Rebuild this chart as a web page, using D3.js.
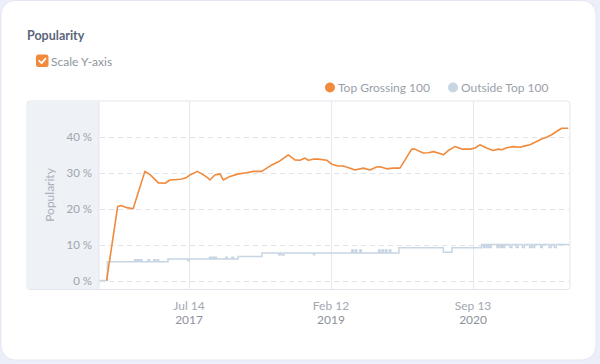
<!DOCTYPE html>
<html><head><meta charset="utf-8">
<script src="https://cdn.jsdelivr.net/npm/d3@7"></script>
<style>
html,body{margin:0;padding:0;background:#eceef9;}
svg{display:block;font-family:Lato,"Open Sans",sans-serif;}
</style></head>
<body><svg id="c" width="600" height="364"></svg>
<script>
const seriesNames = ["Top Grossing 100", "Outside Top 100"];
const seriesColors = ["#f08a3c", "#c8d5e2"];
const yTicks = [0, 10, 20, 30, 40];
const xTickDates = ["2017-07-14", "2019-02-12", "2020-09-13"];
const xTickLine1 = ["Jul 14", "Feb 12", "Sep 13"];
const xTickLine2 = ["2017", "2019", "2020"];

const topDates = ["2016-08-12","2016-09-26","2016-10-10","2016-11-03","2016-11-28","2017-01-15","2017-02-05","2017-03-11","2017-04-07","2017-04-27","2017-06-11","2017-07-01","2017-07-18","2017-08-17","2017-09-09","2017-09-30","2017-10-07","2017-10-27","2017-11-17","2017-11-30","2017-12-28","2018-01-31","2018-03-06","2018-04-02","2018-05-06","2018-06-16","2018-07-19","2018-08-22","2018-09-18","2018-10-09","2018-10-29","2018-11-12","2018-12-02","2018-12-22","2019-01-26","2019-02-15","2019-03-14","2019-04-03","2019-05-01","2019-05-21","2019-06-24","2019-07-21","2019-08-17","2019-08-31","2019-09-27","2019-10-24","2019-11-20","2019-12-11","2020-01-07","2020-01-20","2020-02-23","2020-03-15","2020-04-04","2020-04-24","2020-05-15","2020-06-04","2020-07-01","2020-07-29","2020-09-01","2020-09-21","2020-10-11","2020-11-07","2020-12-04","2020-12-25","2021-01-08","2021-01-28","2021-02-24","2021-03-23","2021-04-13","2021-05-03","2021-05-30","2021-06-19","2021-07-10","2021-07-30","2021-08-19","2021-09-09","2021-10-06"];
const topValues = [0,20.6,20.9,20.3,20.0,30.4,29.5,27.2,27.1,28,28.2,28.6,29.4,30.4,29.5,28.5,28,29.4,29.7,28,29,29.7,30,30.4,30.4,32.2,33.3,35,33.6,33.5,34.1,33.5,33.8,33.8,33.5,32.4,31.9,31.9,31.3,30.8,31.3,30.8,31.6,31.7,31.1,31.3,31.3,33.6,36.6,36.6,35.5,35.6,35.9,35.5,35,36.2,37.3,36.6,36.6,36.9,37.8,36.9,36.2,36.6,36.4,37,37.3,37.1,37.5,37.8,38.7,39.4,39.9,40.6,41.5,42.4,42.4];

const outDates = ["2016-07-14","2016-08-15","2016-12-04","2016-12-10","2016-12-16","2016-12-22","2016-12-28","2017-01-03","2017-01-28","2017-02-03","2017-02-20","2017-02-26","2017-03-06","2017-03-12","2017-04-19","2017-07-10","2017-07-14","2017-10-05","2017-10-10","2017-10-16","2017-10-22","2017-10-28","2017-11-03","2017-12-10","2017-12-16","2018-01-05","2018-01-11","2018-01-30","2018-05-07","2018-07-15","2018-07-20","2018-07-28","2018-08-05","2018-12-03","2018-12-07","2019-05-08","2019-05-14","2019-05-22","2019-05-28","2019-06-10","2019-06-16","2019-08-25","2019-08-31","2019-09-08","2019-09-14","2019-09-22","2019-09-28","2019-10-08","2019-10-14","2019-11-16","2020-05-15","2020-06-19","2020-10-18","2020-10-26","2020-11-01","2020-11-08","2020-11-14","2020-11-20","2020-11-26","2020-12-20","2020-12-26","2021-01-02","2021-01-08","2021-01-14","2021-01-20","2021-02-10","2021-02-18","2021-03-08","2021-03-16","2021-04-02","2021-04-10","2021-05-01","2021-05-08","2021-05-15","2021-05-22","2021-06-15","2021-06-22","2021-07-20","2021-07-28","2021-08-10","2021-08-18","2021-10-10"];
const outValues = [0,5.2,5.8,5.2,5.8,5.2,5.8,5.2,5.8,5.2,5.8,5.2,5.8,5.2,6.0,5.5,6.0,6.5,6.0,6.5,6.0,6.5,6.0,6.5,6.0,6.5,6.0,6.7,7.7,7.1,7.7,7.1,7.7,7.2,7.7,8.5,7.7,8.5,7.7,8.5,7.7,8.5,7.7,8.5,7.7,8.5,7.7,8.5,7.7,9.1,7.9,9.1,10,9.2,10,9.2,10,9.2,10,9.2,10,9.2,10,9.2,10,9.2,10,9.2,10,9.2,10,9.2,10,9.2,10,9.2,10,9.2,10,9.2,10,10];

const parse = d3.timeParse("%Y-%m-%d");
const topData = topDates.map((d,i)=>({date:parse(d), v:topValues[i]}));
const outData = outDates.map((d,i)=>({date:parse(d), v:outValues[i]}));

const svg = d3.select("#c");
// card
svg.append("rect").attr("x",1).attr("y",0.5).attr("width",595).attr("height",359.5).attr("rx",14)
  .attr("fill","#ffffff").attr("stroke","#e4e7f2").attr("stroke-width",1);

// title
svg.append("text").attr("x",27).attr("y",40).text("Popularity")
  .attr("font-size",12.5).attr("font-weight",700).attr("fill","#5c667a");
// checkbox
svg.append("rect").attr("x",36).attr("y",54.5).attr("width",12.5).attr("height",12.5).attr("rx",2.5).attr("fill","#f08a3c");
svg.append("path").attr("d","M39.2 60.8 L41.6 63.1 L45.5 58.6").attr("fill","none").attr("stroke","#fff").attr("stroke-width",1.7).attr("stroke-linecap","round").attr("stroke-linejoin","round");
svg.append("text").attr("x",51).attr("y",65.5).text("Scale Y-axis").attr("font-size",12).attr("fill","#8e939d");

// legend
const legX = [330, 453];
seriesNames.forEach((n,i)=>{
  svg.append("circle").attr("cx",legX[i]).attr("cy",87.5).attr("r",5).attr("fill",seriesColors[i]);
  svg.append("text").attr("x",legX[i]+8).attr("y",91.5).text(n).attr("font-size",12).attr("fill","#9a9fa9");
});

// frame
const L=27, T=101, R=570, B=289.5, P=99;
svg.append("rect").attr("x",L).attr("y",T).attr("width",R-L).attr("height",B-T).attr("rx",3)
  .attr("fill","#fff").attr("stroke","#e2e5eb");
svg.append("path").attr("d",`M${L+3} ${T+0.5} H${P} V${B-0.5} H${L+3} Q${L+0.5} ${B-0.5} ${L+0.5} ${B-3} V${T+3} Q${L+0.5} ${T+0.5} ${L+3} ${T+0.5}Z`)
  .attr("fill","#eef1f5");
svg.append("line").attr("x1",P).attr("x2",P).attr("y1",T).attr("y2",B).attr("stroke","#e2e5eb");

const x = d3.scaleTime().domain([parse("2016-07-12"), parse("2021-10-13")]).range([P, R]);
const y = d3.scaleLinear().domain([-2.5, 50]).range([B, T]);

// vertical grid
const xt = xTickDates.map(parse);
svg.append("g").selectAll("line").data(xt).join("line")
  .attr("x1",d=>Math.round(x(d))+0.5).attr("x2",d=>Math.round(x(d))+0.5).attr("y1",T).attr("y2",B)
  .attr("stroke","#e6e9ee");
// horizontal dashed grid
svg.append("g").selectAll("line").data(yTicks).join("line")
  .attr("x1",P+1).attr("x2",R-1).attr("y1",d=>Math.round(y(d))+0.5).attr("y2",d=>Math.round(y(d))+0.5)
  .attr("stroke","#e0e3e9").attr("stroke-dasharray","5,4");

// y axis labels
const yAxis = d3.axisLeft(y).tickValues(yTicks).tickSize(0).tickPadding(0).tickFormat(d=>d+" %");
const gy = svg.append("g").attr("transform",`translate(${92},0)`).call(yAxis);
gy.select(".domain").remove();
gy.selectAll("text").attr("font-size",11.5).attr("fill","#a0a5af").attr("font-family","Lato,sans-serif");

svg.append("text").attr("transform","translate(54,195) rotate(-90)").attr("text-anchor","middle")
  .text("Popularity").attr("font-size",12).attr("fill","#a9b0bb");

// x axis labels
const gx = svg.append("g");
xt.forEach((d,i)=>{
  gx.append("text").attr("x",x(d)).attr("y",310).attr("text-anchor","middle").text(xTickLine1[i]).attr("font-size",12).attr("fill","#a3a8b1");
  gx.append("text").attr("x",x(d)).attr("y",324).attr("text-anchor","middle").text(xTickLine2[i]).attr("font-size",12).attr("fill","#8d929c");
});

// lines
const lineStep = d3.line().x(d=>x(d.date)).y(d=>y(d.v)).curve(d3.curveStepAfter);
const lineLin = d3.line().x(d=>x(d.date)).y(d=>y(d.v));
svg.append("path").datum(outData).attr("d",lineStep).attr("fill","none").attr("stroke",seriesColors[1]).attr("stroke-width",1.5);
svg.append("path").datum(topData).attr("d",lineLin).attr("fill","none").attr("stroke",seriesColors[0]).attr("stroke-width",1.6).attr("stroke-linejoin","round");
</script></body></html>
